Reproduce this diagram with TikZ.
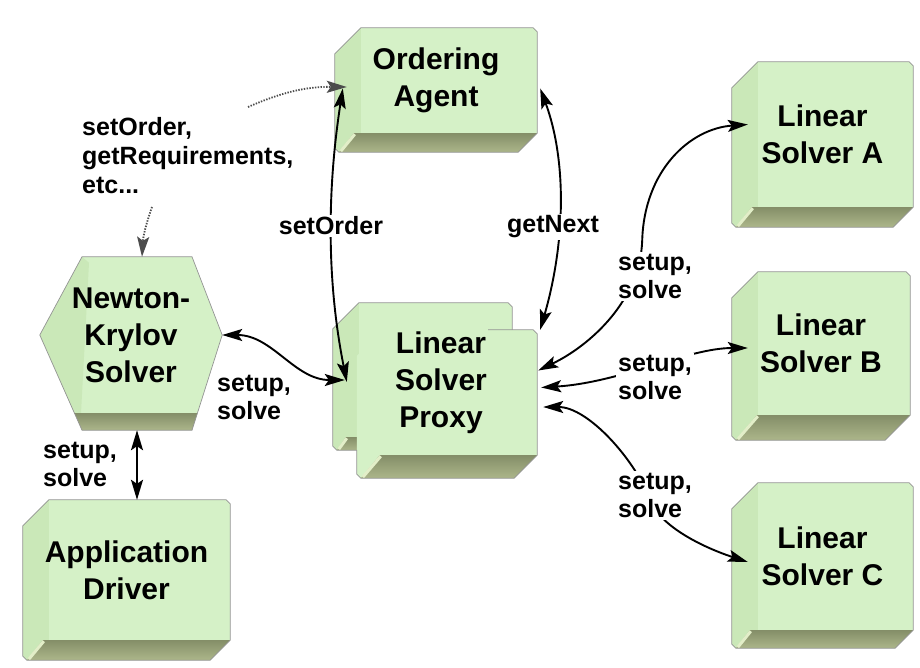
\documentclass[tikz,border=0pt]{standalone}
\usepackage{fontspec}
\setmainfont{Liberation Sans}
\usetikzlibrary{arrows.meta,backgrounds}

\definecolor{faceC}{RGB}{213,241,199}
\definecolor{stripC}{RGB}{202,232,184}
\definecolor{slabTop}{RGB}{132,142,104}
\definecolor{slabBot}{RGB}{172,182,138}
\definecolor{shineC}{RGB}{226,238,200}
\colorlet{boxedge}{black!42}

\tikzset{
  box/.style={draw=none, inner sep=0pt, align=center, text=black,
    font=\fontsize{30}{37}\selectfont\bfseries},
  lbl/.style={fill=white, inner sep=2pt, align=left, text=black,
    font=\fontsize{25}{28}\selectfont\bfseries},
  conn/.style={line width=1.9pt, {Stealth[length=20pt,width=12pt,inset=4pt]}-{Stealth[length=20pt,width=12pt,inset=4pt]}},
  hint/.style={line width=1.8pt, black!70, dash pattern=on 1.4pt off 1.4pt,
    -{Stealth[length=20pt,width=12pt,inset=4pt]}},
}

% raised block behind a node: bevelled top-left corner, side strip and a
% darker slab of depth #2 under the node's face
\newcommand\slabbox[2]{%
  \fill[faceC]
    ([shift={(0,26)}]#1.north west) -- ([shift={(26,0)}]#1.north west)
    -- ([shift={(-4,0)}]#1.north east) -- ([shift={(0,4)}]#1.north east)
    -- (#1.south east) -- ([shift={(-#2,#2)}]#1.south east)
    -- ([shift={(4,#2)}]#1.south west) -- ([shift={(0,#2-4)}]#1.south west) -- cycle;
  \fill[stripC]
    ([shift={(0,26)}]#1.north west) -- ([shift={(26,0)}]#1.north west)
    -- ([shift={(26,0)}]#1.south west) -- ([shift={(4,#2)}]#1.south west)
    -- ([shift={(0,#2-4)}]#1.south west) -- cycle;
  \slabonly{#1}{#2}
  \draw[boxedge, line width=0.7pt]
    ([shift={(0,26)}]#1.north west) -- ([shift={(26,0)}]#1.north west)
    -- ([shift={(-4,0)}]#1.north east) -- ([shift={(0,4)}]#1.north east)
    -- (#1.south east) -- ([shift={(-#2,#2)}]#1.south east)
    -- ([shift={(4,#2)}]#1.south west) -- ([shift={(0,#2-4)}]#1.south west) -- cycle;
}
% the dark slab under a node's face
\newcommand\slabonly[2]{%
  \shade[top color=slabTop, bottom color=slabBot]
    ([shift={(#2,0)}]#1.south west) -- (#1.south east)
    -- ([shift={(-#2,#2)}]#1.south east) -- ([shift={(4,#2)}]#1.south west) -- cycle;
  \draw[shineC, line width=3pt]
    ([shift={(6,#2-1)}]#1.south west) -- ([shift={(#2+1,1)}]#1.south west);
}

\begin{document}
\begin{tikzpicture}[x=1pt,y=-1pt]
\useasboundingbox (0,0) rectangle (920,668);

% blocks (node = front face)
\node[box, minimum width=202pt, minimum height=105pt] (oa)  at (436,80.5)  {Ordering\\Agent};
\node[box, minimum width=181pt, minimum height=145pt] (lsa) at (822.5,134.5) {Linear\\Solver A};
\node[box, minimum width=178pt, minimum height=143pt] (lsb) at (821,343.5) {Linear\\Solver B};
\node[box, minimum width=181pt, minimum height=147pt] (lsc) at (822.5,556.5) {Linear\\Solver C};
\node[box, minimum width=207pt, minimum height=140pt] (ad)  at (126.5,570) {Application\\Driver};
\node[box, minimum width=179pt, minimum height=134pt] (lspback) at (422.5,370) {};
\node[box, minimum width=180pt, minimum height=125pt] (lsp) at (447,392.5) {};
\node[box] (lsptxt) at (441,383) {Linear\\Solver\\Proxy};
\node[box, minimum width=182pt, minimum height=156pt] (nk) at (131,335) {Newton-\\Krylov\\Solver};

\begin{scope}[on background layer]
  \fill[white] (0,0) rectangle (920,668);
  \slabbox{oa}{19}
  \slabbox{lsa}{20}
  \slabbox{lsb}{25}
  \slabbox{lsc}{18}
  \slabbox{ad}{20}
  \slabbox{lspback}{13}
  % second proxy block: its face merges with the one behind it
  \fill[faceC] ([shift={(26,0)}]lsp.north west)
    -- ([shift={(-4,0)}]lsp.north east) -- ([shift={(0,4)}]lsp.north east)
    -- (lsp.south east) -- ([shift={(-23,23)}]lsp.south east)
    -- ([shift={(4,23)}]lsp.south west) -- ([shift={(0,19)}]lsp.south west)
    -- ([shift={(0,26)}]lsp.north west) -- cycle;
  \slabonly{lsp}{23}
  \draw[boxedge, line width=0.7pt] ([shift={(-24,0)}]lspback.north east |- lsp.north)
    -- ([shift={(-4,0)}]lsp.north east) -- ([shift={(0,4)}]lsp.north east)
    -- (lsp.south east) -- ([shift={(-23,23)}]lsp.south east)
    -- ([shift={(4,23)}]lsp.south west) -- ([shift={(0,19)}]lsp.south west)
    -- ([shift={(0,-5)}]lsp.south west);
  % hexagonal solver block
  \fill[faceC] (nk.west) -- ([shift={(-49,0)}]nk.north) -- ([shift={(61,0)}]nk.north)
    -- (nk.east) -- ([shift={(61,17)}]nk.south) -- ([shift={(-49,17)}]nk.south) -- cycle;
  \fill[stripC] (nk.west) -- ([shift={(-49,0)}]nk.north) -- ([shift={(-42,6)}]nk.north)
    -- ([shift={(-50,0)}]nk.south) -- ([shift={(-56.5,0)}]nk.south) -- cycle;
  \shade[top color=slabTop, bottom color=slabBot]
    ([shift={(-56.5,0)}]nk.south) -- ([shift={(66.4,0)}]nk.south)
    -- ([shift={(61,17)}]nk.south) -- ([shift={(-49,17)}]nk.south) -- cycle;
  \draw[boxedge, line width=0.7pt] (nk.west) -- ([shift={(-49,0)}]nk.north) -- ([shift={(61,0)}]nk.north)
    -- (nk.east) -- ([shift={(61,17)}]nk.south) -- ([shift={(-49,17)}]nk.south) -- cycle;
\end{scope}

% connectors
\draw[conn] ([shift={(8,8)}]oa.west) .. controls +(-14,90) and +(-22,-110) .. ([shift={(14,12)}]lspback.west);
\draw[conn] ([shift={(3,8)}]oa.east) .. controls +(26,70) and +(26,-90) .. ([shift={(3,0)}]lsp.north east);
\draw[conn] (nk.east) .. controls +(50,0) and +(-50,0) .. ([shift={(12,10)}]lspback.west);
\draw[conn] ([shift={(6,17)}]nk.south) -- ([shift={(10.5,0)}]ad.north);
\draw[conn] ([shift={(1,-22)}]lsp.east) .. controls +(52,-25) and +(-2,60) .. ++(104,-130)
  .. controls +(2,-70) and +(-58,4) .. ([shift={(16,-10)}]lsa.west);
\draw[conn] ([shift={(4,-5)}]lsp.east) .. controls +(80,-5) and +(-60,0) .. ([shift={(16,4.5)}]lsb.west);
\draw[conn] ([shift={(6,14.5)}]lsp.east) .. controls +(45,0) and +(-15,-40) .. ++(107,93)
  .. controls +(10,27) and +(-43,-14) .. ([shift={(16,5.5)}]lsc.west);

\coordinate (d1) at (248,107);
\coordinate (d2) at (152,207);
\draw[hint] (d1) to[bend left=12] ([shift={(12,6.5)}]oa.west);
\draw[hint] (d2) to[bend right=8] ([shift={(11,0)}]nk.north);

% labels
\node[lbl, anchor=west, font=\fontsize{25}{29}\selectfont\bfseries] (tips) at (80,156) {setOrder,\\getRequirements,\\etc...};
\node[lbl] (so) at (331,226) {setOrder};
\node[lbl] (gn) at (553,227) {getNext};
\node[lbl, anchor=west] (lnk) at (215,397) {setup,\\solve};
\node[lbl, anchor=west] (lad) at (41,464) {setup,\\solve};
\node[lbl, anchor=west] (la) at (616,276.5) {setup,\\solve};
\node[lbl, anchor=west] (lb) at (616,377) {setup,\\solve};
\node[lbl, anchor=west] (lc) at (616,495.5) {setup,\\solve};
\end{tikzpicture}
\end{document}
